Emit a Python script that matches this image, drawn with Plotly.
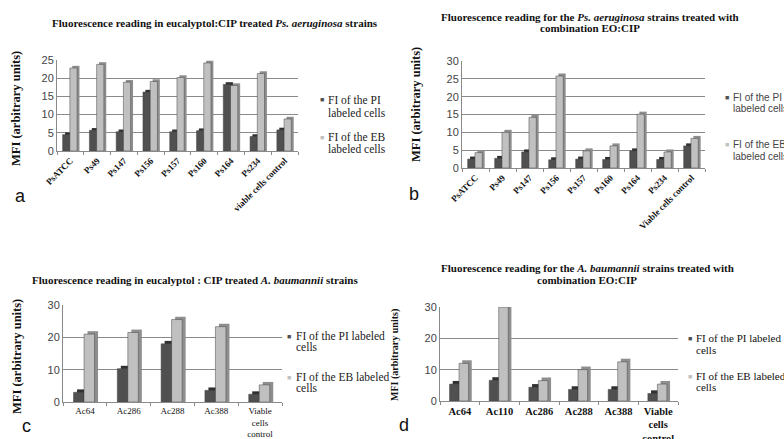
import plotly.graph_objects as go

# ---------------- data ----------------
cats_a = ["PsATCC", "Ps49", "Ps147", "Ps156", "Ps157", "Ps160", "Ps164", "Ps234", "viable cells control"]
pi_a = [4.5, 5.7, 5.3, 16.2, 5.3, 5.6, 18.3, 4.0, 5.8]
eb_a = [22.8, 23.8, 18.9, 19.1, 20.2, 24.2, 18.0, 21.3, 8.8]

cats_b = ["PsATCC", "Ps49", "Ps147", "Ps156", "Ps157", "Ps160", "Ps164", "Ps234", "Viable cells control"]
pi_b = [2.5, 2.7, 4.5, 2.3, 2.5, 2.4, 4.8, 2.4, 6.2]
eb_b = [4.3, 10.0, 14.2, 25.8, 4.8, 6.2, 15.1, 4.5, 8.3]

cats_c = ["Ac64", "Ac286", "Ac288", "Ac388", "Viable<br>cells<br>control"]
pi_c = [3.0, 10.3, 18.0, 3.6, 2.4]
eb_c = [21.0, 21.5, 25.5, 23.3, 5.3]

cats_d = ["Ac64", "Ac110", "Ac286", "Ac288", "Ac388", "Viable<br>cells<br>control"]
pi_d = [5.4, 6.6, 4.4, 3.7, 3.7, 2.4]
eb_d = [12.0, 30.0, 6.5, 10.0, 12.5, 5.4]

series_names = ["FI of the PI labeled cells", "FI of the EB labeled cells"]

# ---------------- style ----------------
PI_COL, PI_SIDE = "#505050", "#303030"
EB_COL, EB_SIDE = "#c0c0c0", "#8e8e8e"
SERIF = "Liberation Serif"
SANS = "Liberation Sans"
W, H = 784, 439


def px(x):
    return x / W


def py(y):
    return 1 - y / H


fig = go.Figure()


def add_panel(k, cats, pi, eb, width, depth, sdx):
    xa = "x" if k == 1 else f"x{k}"
    ya = "y" if k == 1 else f"y{k}"
    specs = [(pi, PI_COL, PI_SIDE, -width, series_names[0]),
             (eb, EB_COL, EB_SIDE, 0.0, series_names[1])]
    for vals, col, side, off, name in specs:
        fig.add_trace(go.Bar(x=cats, y=[v + depth for v in vals], offset=off + sdx, width=width,
                             marker=dict(color=side, line=dict(width=0)), xaxis=xa, yaxis=ya,
                             showlegend=False, hoverinfo="skip"))
        fig.add_trace(go.Bar(x=cats, y=vals, offset=off - 0.02, width=width, name=name,
                             marker=dict(color=col, line=dict(width=0.5, color="#444444")),
                             xaxis=xa, yaxis=ya, showlegend=False))


add_panel(1, cats_a, pi_a, eb_a, 0.27, 0.6, 0.07)
add_panel(2, cats_b, pi_b, eb_b, 0.27, 0.7, 0.07)
add_panel(3, cats_c, pi_c, eb_c, 0.24, 0.9, 0.06)
add_panel(4, cats_d, pi_d, eb_d, 0.24, 1.0, 0.06)


def xaxis(dom, anchor, angle, fam, size, bold=False):
    return dict(domain=dom, anchor=anchor, tickangle=angle, showgrid=False, showline=True,
                linecolor="#8a8a8a", linewidth=1, ticks="outside", tickson="boundaries",
                tickcolor="#8a8a8a", ticklen=3, zeroline=False,
                tickfont=dict(family=fam, size=size, color="#111111",
                              weight="bold" if bold else "normal"))


def yaxis(dom, anchor, rng, dtick):
    return dict(domain=dom, anchor=anchor, range=rng, dtick=dtick, showgrid=True, gridcolor="#8a8a8a",
                gridwidth=1, showline=True, linecolor="#8a8a8a", ticks="", zeroline=False,
                tickfont=dict(family=SANS, size=11, color="#444444"))


fig.update_layout(
    width=W, height=H, margin=dict(l=0, r=0, t=0, b=0, autoexpand=False),
    plot_bgcolor="white", paper_bgcolor="white", barmode="overlay", showlegend=False,
    xaxis=xaxis([px(57), px(298)], "y", -45, SERIF, 9, True),
    yaxis=yaxis([py(151), py(60)], "x", [0, 25], 5),
    xaxis2=xaxis([px(462), px(705)], "y2", -45, SERIF, 9, True),
    yaxis2=yaxis([py(168), py(61)], "x2", [0, 30], 5),
    xaxis3=xaxis([px(63), px(282)], "y3", 0, SERIF, 9),
    yaxis3=yaxis([py(402), py(305)], "x3", [0, 30], 10),
    xaxis4=xaxis([px(440), px(678)], "y4", 0, SERIF, 10.5, True),
    yaxis4=yaxis([py(401), py(307)], "x4", [0, 30], 10),
)


def ann(text, x, y, fam, size, color="#111111", xanchor="center", angle=0, bold=False):
    fig.add_annotation(text=text, x=px(x), y=py(y), xref="paper", yref="paper", showarrow=False,
                       xanchor=xanchor, yanchor="middle", textangle=angle, align="left",
                       font=dict(family=fam, size=size, color=color, weight="bold" if bold else "normal"))


# titles
ann("<b>Fluorescence reading in eucalyptol:CIP treated <i>Ps. aeruginosa</i> strains</b>", 215, 23, SERIF, 11)
ann("<b>Fluorescence reading for the <i>Ps. aeruginosa</i> strains treated with</b>", 590, 17, SERIF, 11)
ann("<b>combination EO:CIP</b>", 590, 28, SERIF, 11)
ann("<b>Fluorescence reading in eucalyptol : CIP treated <i>A. baumannii</i> strains</b>", 195, 280, SERIF, 11)
ann("<b>Fluorescence reading for the <i>A. baumannii</i> strains treated with</b>", 587, 268, SERIF, 11)
ann("<b>combination EO:CIP</b>", 587, 280, SERIF, 11)

# y-axis titles
for x, y, s in [(16, 109, 12.5), (416, 105, 12.5), (17, 357, 12.5), (395, 355, 10)]:
    ann("<b>MFI (arbitrary units)</b>", x, y, SERIF, s, angle=-90)

# panel letters
for lab, x, y in [("a", 20, 196), ("b", 414, 194), ("c", 27, 426), ("d", 404, 425)]:
    ann(lab, x, y, SANS, 18)

# legends (marker square + text lines)
legends = [
    (322, 326, [(99.5, 113), (137, 149)], SERIF, 11.5,
     [["FI of the PI", "labeled cells"], ["FI of the EB", "labeled cells"]], "#222222"),
    (727, 731, [(97, 109), (144, 156)], SANS, 10,
     [["FI of the PI", "labeled cells"], ["FI of the EB", "labeled cells"]], "#444444"),
    (289, 294, [(336, 347), (377, 388)], SERIF, 11.5,
     [["FI of the PI labeled", "cells"], ["FI of the EB labeled", "cells"]], "#222222"),
    (690, 694, [(338, 350), (376, 387)], SERIF, 11,
     [["FI of the PI labeled", "cells"], ["FI of the EB labeled", "cells"]], "#111111"),
]
for mx, tx, rows, fam, size, texts, col in legends:
    for (y1, y2), lines, mcol in zip(rows, texts, [PI_COL, EB_COL]):
        ann("■", mx, y1, SANS, 7, color=mcol)
        ann(lines[0], tx, y1, fam, size, color=col, xanchor="left")
        ann(lines[1], tx, y2, fam, size, color=col, xanchor="left")

fig.write_html("out.html", config={"displayModeBar": False},
               post_script="document.body.style.margin='0px';")
